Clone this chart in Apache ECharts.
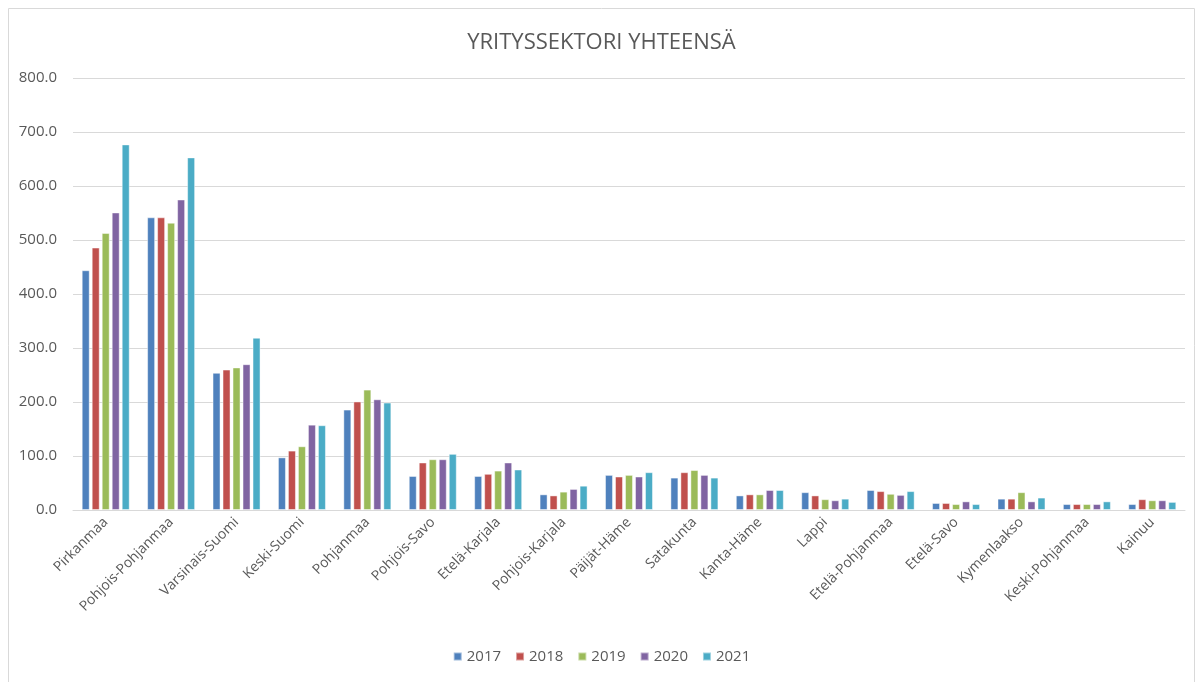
<!DOCTYPE html>
<html>
<head>
<meta charset="utf-8">
<script src="https://cdn.jsdelivr.net/npm/echarts@6/dist/echarts.min.js"></script>
<style>
  html, body { margin: 0; padding: 0; background: #fff; }
  #main { width: 1203px; height: 682px; }
</style>
</head>
<body>
<div id="main"></div>
<script>
// maakunnat
const regions = ['Pirkanmaa', 'Pohjois-Pohjanmaa', 'Varsinais-Suomi', 'Keski-Suomi', 'Pohjanmaa',
  'Pohjois-Savo', 'Etelä-Karjala', 'Pohjois-Karjala', 'Päijät-Häme', 'Satakunta', 'Kanta-Häme',
  'Lappi', 'Etelä-Pohjanmaa', 'Etelä-Savo', 'Kymenlaakso', 'Keski-Pohjanmaa', 'Kainuu'];

const years = ['2017', '2018', '2019', '2020', '2021'];

const v2017 = [444, 542, 254, 97.5, 186, 63, 63, 29, 65, 60, 27, 33, 37, 13, 21, 11, 11];
const v2018 = [486, 542, 260, 110, 201, 88, 67, 27, 62, 70, 29, 27, 35, 13, 21, 11, 20];
const v2019 = [513, 532, 264, 118, 223, 94, 73, 34, 65, 74, 29, 20, 30, 11, 33, 11, 18];
const v2020 = [551, 575, 270, 158, 205, 94, 88, 39, 62, 65, 37, 18, 28, 16, 16, 11, 18];
const v2021 = [677, 653, 319, 157, 199, 104, 75, 45, 70, 60, 37, 21, 35, 11, 23, 16, 15];

const colors = ['#4F81BD', '#C0504D', '#9BBB59', '#8064A2', '#4BACC6'];
const valueSets = [v2017, v2018, v2019, v2020, v2021];

var myChart = echarts.init(document.getElementById('main'));

const fontFam = "'Open Sans', 'Liberation Sans', sans-serif";

const option = {
    color: colors,
    animation: false,
    title: {
        text: 'YRITYSSEKTORI YHTEENSÄ',
        left: 'center',
        top: 27,
        textStyle: { fontFamily: fontFam, fontSize: 22, fontWeight: 'normal', color: '#595959' }
    },
    graphic: [{
        type: 'rect',
        shape: { x: 8.5, y: 8.5, width: 1186, height: 690 },
        style: { fill: 'none', stroke: '#D9D9D9', lineWidth: 1 },
        silent: true
    }],
    legend: {
        bottom: 13,
        left: 'center',
        icon: 'rect',
        itemWidth: 8,
        itemHeight: 8,
        itemGap: 14,
        textStyle: { fontFamily: fontFam, fontSize: 15, color: '#595959' }
    },
    grid: { left: 73, right: 18, top: 78, bottom: 172, containLabel: false },
    xAxis: {
        type: 'category',
        data: regions,
        axisLine: { lineStyle: { color: '#D9D9D9', width: 1 } },
        axisTick: { show: false },
        axisLabel: {
            rotate: 45,
            interval: 0,
            margin: 10,
            fontFamily: fontFam,
            fontSize: 14,
            color: '#595959'
        }
    },
    yAxis: {
        type: 'value',
        min: 0,
        max: 800,
        interval: 100,
        axisLine: { show: false },
        axisTick: { show: false },
        splitLine: { lineStyle: { color: '#D9D9D9', width: 1 } },
        axisLabel: {
            margin: 16,
            fontFamily: fontFam,
            fontSize: 15,
            color: '#595959',
            formatter: v => v.toFixed(1)
        }
    },
    series: years.map((y, i) => ({
        name: y,
        type: 'bar',
        data: valueSets[i],
        barWidth: 8,
        barGap: '25%',
        itemStyle: { borderColor: 'rgba(255,255,255,0.45)', borderWidth: 1 }
    }))
};

myChart.setOption(option);
</script>
</body>
</html>
